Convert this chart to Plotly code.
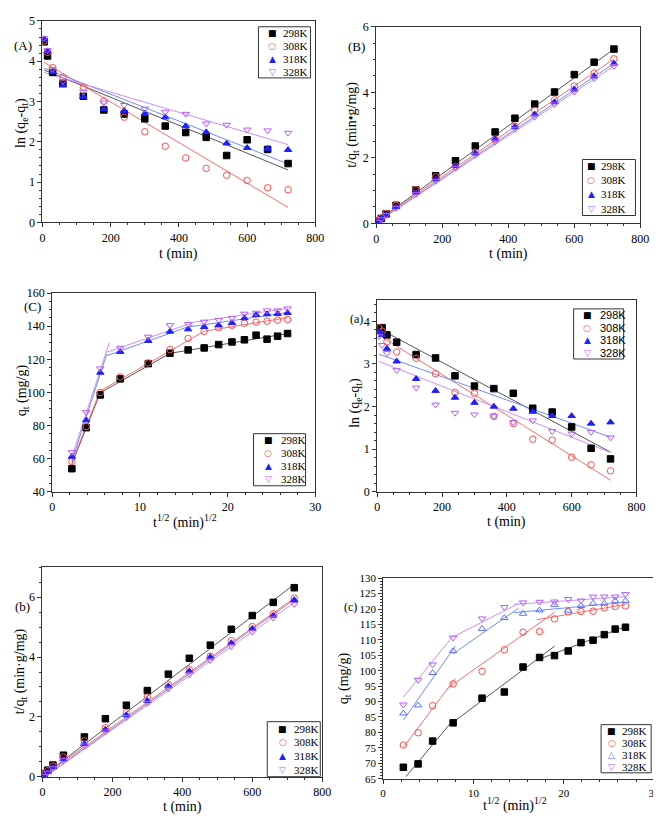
import plotly.graph_objects as go

W, H = 661, 817
temps = ["298K", "308K", "318K", "328K"]
t_min = [5, 15, 30, 60, 120, 180, 240, 300, 360, 420, 480, 540, 600, 660, 720]
t_half = [2.24, 3.87, 5.48, 7.75, 10.95, 13.42, 15.49, 17.32, 18.97, 20.49, 21.91, 23.24, 24.49, 25.69, 26.83]

# (A) ln(qe-qt)
A_298 = [4.48, 4.13, 3.72, 3.45, 3.13, 2.79, 2.69, 2.57, 2.39, 2.23, 2.11, 1.66, 2.05, 1.81, 1.46]
A_308 = [4.50, 4.22, 3.84, 3.60, 3.35, 3.01, 2.61, 2.25, 1.89, 1.60, 1.34, 1.17, 1.04, 0.86, 0.81]
A_318 = [4.55, 4.25, 3.73, 3.40, 3.12, 2.81, 2.77, 2.70, 2.61, 2.39, 2.24, 1.96, 1.85, 1.83, 1.80]
A_328 = [4.57, 4.27, 3.80, 3.50, 3.24, 2.97, 2.91, 2.82, 2.74, 2.69, 2.45, 2.42, 2.30, 2.28, 2.22]
A_fit_x = [5, 720]
A_fit = [[3.78, 1.30], [3.97, 0.37], [3.83, 1.45], [3.72, 1.93]]

# (B) t/qt
B_298 = [0.07, 0.15, 0.29, 0.55, 1.02, 1.45, 1.91, 2.36, 2.79, 3.21, 3.64, 4.01, 4.54, 4.92, 5.32]
B_308 = [0.07, 0.16, 0.30, 0.55, 1.03, 1.42, 1.74, 2.17, 2.57, 2.97, 3.45, 3.77, 4.19, 4.59, 5.02]
B_318 = [0.05, 0.14, 0.27, 0.50, 0.95, 1.35, 1.76, 2.15, 2.57, 2.95, 3.33, 3.70, 4.09, 4.49, 4.88]
B_328 = [0.04, 0.13, 0.25, 0.47, 0.89, 1.29, 1.69, 2.08, 2.49, 2.88, 3.25, 3.63, 4.02, 4.42, 4.80]
B_fit_x = [0, 720]
B_fit = [[0.05, 5.32], [0.05, 5.02], [0.03, 4.88], [0.02, 4.80]]

# (C) qt vs t^1/2
C_298 = [53.9, 78.7, 98.5, 108.2, 117.4, 123.7, 125.7, 126.9, 128.9, 130.5, 131.8, 134.6, 132.2, 134.0, 135.6]
C_308 = [58.3, 79.3, 99.9, 109.4, 117.8, 125.9, 132.6, 136.8, 139.2, 140.6, 141.8, 142.5, 143.1, 143.7, 144.1]
C_318 = [61.2, 83.2, 112.0, 124.5, 131.2, 136.8, 138.2, 139.6, 140.6, 142.0, 144.9, 146.9, 147.3, 147.5, 148.1]
C_328 = [63.8, 88.0, 114.4, 126.9, 133.6, 140.6, 141.2, 142.7, 143.7, 144.9, 147.5, 148.1, 149.5, 149.5, 150.7]
C_seg = [
    [([2.24, 5.48], [56.8, 99.8]), ([5.48, 13.42], [99.8, 123.6]), ([13.42, 26.83], [123.6, 135.6])],
    [([2.24, 5.48], [58.0, 101.0]), ([5.48, 13.42], [101.0, 125.0]), ([13.42, 17.32], [125.0, 137.0]), ([17.32, 26.83], [137.0, 145.2])],
    [([2.24, 6.2], [58.5, 123.0]), ([6.2, 16.0], [122.2, 140.6]), ([15.5, 26.83], [139.5, 148.3])],
    [([2.24, 6.5], [61.0, 130.0]), ([6.2, 16.2], [124.3, 142.5]), ([16.2, 26.83], [142.5, 150.8])],
]

# (a) ln(qe-qt)
a_298 = [3.85, 3.85, 3.68, 3.51, 3.22, 3.14, 2.72, 2.48, 2.42, 2.31, 1.96, 1.87, 1.52, 1.02, 0.77]
a_308 = [3.85, 3.77, 3.52, 3.28, 3.13, 2.77, 2.33, 2.31, 1.77, 1.60, 1.23, 1.21, 0.81, 0.63, 0.49]
a_318 = [3.75, 3.68, 3.36, 3.06, 2.65, 2.37, 2.21, 2.09, 2.00, 1.95, 1.88, 1.78, 1.78, 1.60, 1.63]
a_328 = [3.65, 3.44, 3.25, 2.85, 2.44, 2.04, 1.85, 1.81, 1.77, 1.63, 1.67, 1.42, 1.36, 1.40, 1.27]
a_fit_x = [5, 720]
a_fit = [[3.83, 0.93], [3.68, 0.27], [3.23, 1.28], [3.06, 0.92]]

# (b) t/qt
b_298 = [0.11, 0.22, 0.39, 0.72, 1.33, 1.94, 2.39, 2.88, 3.43, 3.96, 4.40, 4.93, 5.39, 5.83, 6.32]
b_308 = [0.08, 0.20, 0.36, 0.66, 1.20, 1.64, 2.14, 2.66, 3.09, 3.58, 4.03, 4.55, 5.02, 5.45, 5.97]
b_318 = [0.05, 0.16, 0.32, 0.59, 1.10, 1.58, 2.06, 2.54, 3.03, 3.53, 4.00, 4.47, 4.95, 5.39, 5.91]
b_328 = [0.02, 0.13, 0.28, 0.55, 1.04, 1.51, 1.99, 2.46, 2.94, 3.42, 3.89, 4.36, 4.84, 5.31, 5.77]
b_fit_x = [5, 720]
b_fit = [[0.06, 6.43], [0.05, 5.97], [0.0, 5.92], [-0.02, 5.82]]

# (c) qt vs t^1/2
c_298 = [68.7, 69.8, 77.2, 83.1, 91.1, 93.1, 101.2, 104.3, 104.9, 106.4, 109.1, 109.9, 111.7, 113.5, 114.1]
c_308 = [75.9, 79.9, 88.7, 95.7, 99.8, 106.8, 112.5, 112.7, 116.8, 119.1, 119.2, 119.3, 120.4, 120.8, 121.0]
c_318 = [86.2, 88.8, 99.3, 106.4, 113.6, 117.1, 118.5, 119.6, 121.4, 119.5, 121.0, 121.8, 121.8, 122.7, 122.7]
c_328 = [89.0, 97.0, 102.0, 110.7, 116.9, 120.6, 122.1, 122.3, 122.4, 123.2, 122.7, 124.0, 124.0, 124.0, 124.8]
c_seg = [
    [([2.54, 7.75], [65.7, 84.0]), ([7.75, 19.0], [83.3, 108.0]), ([17.32, 26.83], [103.8, 114.3])],
    [([2.24, 8.0], [75.2, 97.5]), ([7.0, 19.0], [94.0, 119.0]), ([17.0, 26.83], [116.5, 121.5])],
    [([2.24, 8.0], [84.0, 108.0]), ([7.75, 15.0], [105.5, 120.3]), ([14.5, 26.83], [118.8, 122.2])],
    [([2.24, 7.75], [91.5, 111.3]), ([7.75, 15.0], [111.0, 121.8]), ([14.5, 26.83], [121.5, 124.0])],
]

SERIF = "Liberation Serif"
SANS = "Liberation Sans"
GLYPH = "DejaVu Sans"
mk_sym = ["square", "circle-open", "triangle-up", "triangle-down-open"]
mk_glyph = ["\u25a0", "\u25cb", "\u25b2", "\u25bd"]
mk_col = ["#000000", "#ff4d4d", "#1f1fff", "#b45cff"]
ln_col = ["#555555", "#ff6b6b", "#6f8cff", "#cc8cff"]

fig = go.Figure()


def px_dom_x(a, b):
    return [a / W, b / W]


def px_dom_y(top, bot):
    return [1 - bot / H, 1 - top / H]


panels = [
    dict(n=1, xd=(32, 310), yd=(6, 211), xr=[0, 800], yr=[0, 5], xdt=200, ydt=1,
         xt="t (min)", xtp=(171, 243), yt="ln (q<sub>e</sub>-q<sub>t</sub>)", ytp=(10, 110),
         lab="(A)", lp=(12, 31), lfs=13, tfs=12,
         box=(252, 12, 305, 64, 14, 23), ys=[A_298, A_308, A_318, A_328], xs=t_min,
         fits=[[(A_fit_x, f)] for f in A_fit], lfont=SERIF, open318=False),
    dict(n=2, xd=(372, 641), yd=(12, 212), xr=[0, 800], yr=[0, 6], xdt=200, ydt=2,
         xt="t (min)", xtp=(507, 243), yt="t/q<sub>t</sub> (min\u2022g/mg)", ytp=(347, 112),
         lab="(B)", lp=(352, 32), lfs=13, tfs=12,
         box=(582, 147, 636, 204, 9, 17), ys=[B_298, B_308, B_318, B_328], xs=t_min,
         fits=[[(B_fit_x, f)] for f in B_fit], lfont=SERIF, open318=False),
    dict(n=3, xd=(42, 310), yd=(283, 485), xr=[0, 30], yr=[40, 160], xdt=10, ydt=20,
         xt="t<sup>1/2</sup> (min)<sup>1/2</sup>", xtp=(177, 515), yt="q<sub>t</sub> (mg/g)", ytp=(12, 382),
         lab="(C)", lp=(22, 297), lfs=13, tfs=12,
         box=(247, 426, 300, 479, 15, 26), ys=[C_298, C_308, C_318, C_328], xs=t_half,
         fits=C_seg, lfont=SERIF, open318=False),
    dict(n=4, xd=(373, 637), yd=(290, 485), xr=[0, 800], yr=[0, 4.5], xdt=200, ydt=1,
         xt="t (min)", xtp=(505, 516), yt="ln (q<sub>e</sub>-q<sub>t</sub>)", ytp=(351, 395),
         lab="(a)", lp=(352, 309), lfs=12, tfs=12,
         box=(573, 299, 624, 350, 14, 25), ys=[a_298, a_308, a_318, a_328], xs=t_min,
         fits=[[(a_fit_x, f)] for f in a_fit], lfont=SANS, open318=False),
    dict(n=5, xd=(32, 317), yd=(562, 775), xr=[0, 800], yr=[0, 7], xdt=200, ydt=2,
         xt="t (min)", xtp=(175, 806), yt="t/q<sub>t</sub> (min\u00b7g/mg)", ytp=(10, 668),
         lab="(b)", lp=(12, 602), lfs=13, tfs=12,
         box=(261, 719, 315, 775, 16, 25), ys=[b_298, b_308, b_318, b_328], xs=t_min,
         fits=[[(b_fit_x, f)] for f in b_fit], lfont=SERIF, open318=False),
    dict(n=6, xd=(379, 655), yd=(573, 777), xr=[0, 30], yr=[65, 130], xdt=10, ydt=5,
         xt="t<sup>1/2</sup> (min)<sup>1/2</sup>", xtp=(513, 803), yt="q<sub>t</sub> (mg/g)", ytp=(340, 675),
         lab="(c)", lp=(346, 602), lfs=12, tfs=11,
         box=(601, 722, 652, 771, 11, 19), ys=[c_298, c_308, c_318, c_328], xs=t_half,
         fits=c_seg, lfont=SERIF, open318=True),
]

layout = dict(width=W, height=H, margin=dict(l=0, r=0, t=0, b=0),
              paper_bgcolor="white", plot_bgcolor="white", showlegend=False,
              font=dict(family=SERIF, size=12, color="black"),
              annotations=[], shapes=[])


def add_text(text, px, py, size, family=SERIF, color="black", angle=0, xanchor="center"):
    layout["annotations"].append(dict(text=text, x=px / W, y=1 - py / H,
                                      xref="paper", yref="paper", showarrow=False,
                                      xanchor=xanchor, yanchor="middle", textangle=angle,
                                      font=dict(family=family, size=size, color=color)))


for p in panels:
    n = p["n"]
    sx = "" if n == 1 else str(n)
    xa, ya = "x" + sx, "y" + sx
    for i, segs in enumerate(p["fits"]):
        for (fx, fy) in segs:
            fig.add_trace(go.Scatter(x=fx, y=fy, mode="lines", xaxis=xa, yaxis=ya,
                                     line=dict(color=ln_col[i], width=1), showlegend=False,
                                     hoverinfo="skip"))
    cols = list(mk_col)
    glyphs = list(mk_glyph)
    for i, yv in enumerate(p["ys"]):
        sym = mk_sym[i]
        col = mk_col[i]
        if p["open318"] and i == 2:
            sym = "triangle-up-open"
            col = "#5a6cff"
            cols[2] = col
            glyphs[2] = "\u25b3"
        fig.add_trace(go.Scatter(x=p["xs"], y=yv, mode="markers", name=temps[i],
                                 xaxis=xa, yaxis=ya, showlegend=False,
                                 marker=dict(symbol=sym, size=6.5, color=col,
                                             line=dict(width=1, color=col))))
    common = dict(showline=True, linecolor="#333333", linewidth=1, mirror=True,
                  ticks="outside", ticklen=4, tickcolor="#333333", showgrid=False,
                  zeroline=False, tickfont=dict(family=SERIF, size=p["tfs"]),
                  minor=dict(ticks="outside", ticklen=2, tickcolor="#333333"))
    layout["xaxis" + sx] = dict(common, domain=px_dom_x(*p["xd"]), range=p["xr"],
                                dtick=p["xdt"], tick0=0, anchor=ya)
    layout["yaxis" + sx] = dict(common, domain=px_dom_y(*p["yd"]), range=p["yr"],
                                dtick=p["ydt"], tick0=0, anchor=xa)
    # axis titles
    add_text(p["xt"], p["xtp"][0], p["xtp"][1], 14)
    add_text(p["yt"], p["ytp"][0], p["ytp"][1], 14, angle=-90)
    # compact legend box
    x0, y0, x1, y1, mo, to = p["box"]
    layout["shapes"].append(dict(type="rect", xref="paper", yref="paper",
                                 x0=x0 / W, x1=x1 / W, y0=1 - y1 / H, y1=1 - y0 / H,
                                 line=dict(color="#333333", width=1), fillcolor="white",
                                 layer="above"))
    step = (y1 - y0) / 4.0
    for i in range(4):
        yc = y0 + step * (i + 0.5)
        add_text(glyphs[i], x0 + mo, yc, 9, family=GLYPH, color=cols[i])
        add_text(temps[i], x0 + to, yc, 11, family=p["lfont"], xanchor="left")
    add_text(p["lab"], p["lp"][0], p["lp"][1], p["lfs"])

fig.update_layout(**layout)
fig.write_html("out.html")
